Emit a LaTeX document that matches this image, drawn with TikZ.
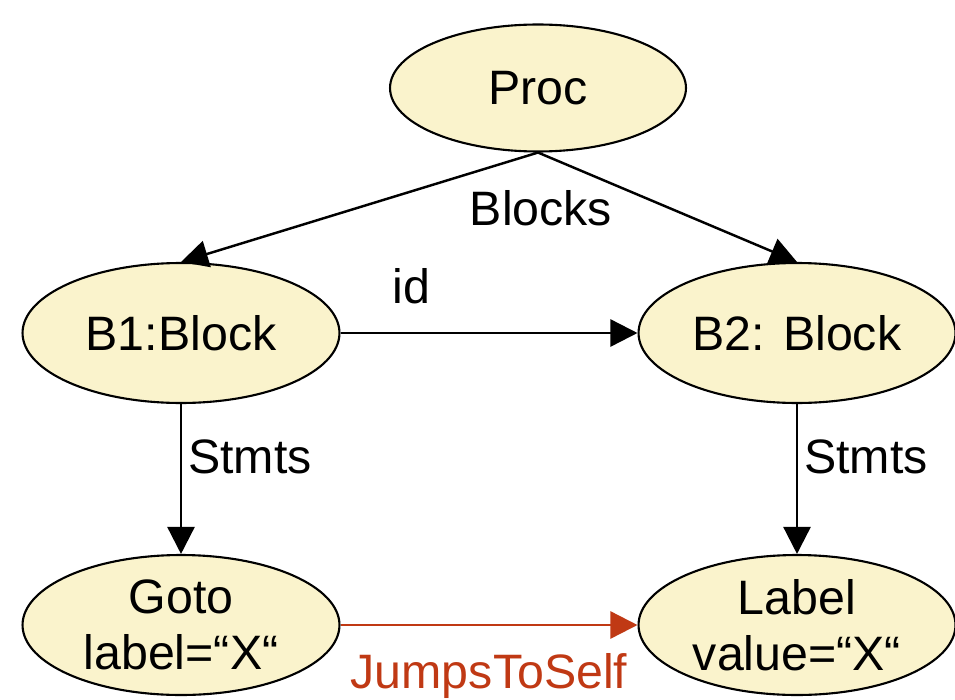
\documentclass[tikz,border=0pt]{standalone}
\usepackage{fontspec}
\setmainfont{Liberation Sans}
\usetikzlibrary{shapes.geometric,arrows.meta}
\definecolor{nodefill}{RGB}{250,243,204}
\definecolor{jumpred}{RGB}{192,57,20}
\tikzset{
    cls/.style={ellipse,draw=black,line width=1.2pt,fill=nodefill,minimum width=6.34cm,minimum height=2.8cm,align=center,inner sep=0pt},
    link/.style={line width=1.4pt,-{Triangle[length=0.54cm,width=0.54cm]}},
    lbl/.style={inner sep=0pt}
}
\begin{document}
\begin{tikzpicture}[x=0.02cm,y=-0.02cm,font=\fontsize{27.5}{32}\selectfont]
    \useasboundingbox (0,0) rectangle (955,699);
    \node[cls,minimum width=5.92cm,minimum height=2.54cm] (proc) at (538,88) {Proc};
    \node[cls] (b1) at (181,333) {B1:Block};
    \node[cls] (b2) at (797,333) {B2: Block};
    \node[cls] (goto) at (181,625) {Goto\\label=“X“};
    \node[cls] (label) at (797,625) {Label\\value=“X“};

    \draw[link] (proc.south) -- (b1.north);
    \draw[link] (proc.south) -- (b2.north);
    \node[lbl] (blocks) at (541,208) {Blocks};
    \draw[link] (b1.east) -- (b2.west) node[lbl,pos=0.24,above=0.55cm] {id};
    \draw[link] (b1.south) -- (goto.north) node[lbl,pos=0.35,right=0.12cm] {Stmts};
    \draw[link] (b2.south) -- (label.north) node[lbl,pos=0.35,right=0.12cm] {Stmts};
    \draw[link,draw=jumpred,color=jumpred] (goto.east) -- (label.west) node[lbl,midway,below=0.55cm] {JumpsToSelf};
\end{tikzpicture}
\end{document}
